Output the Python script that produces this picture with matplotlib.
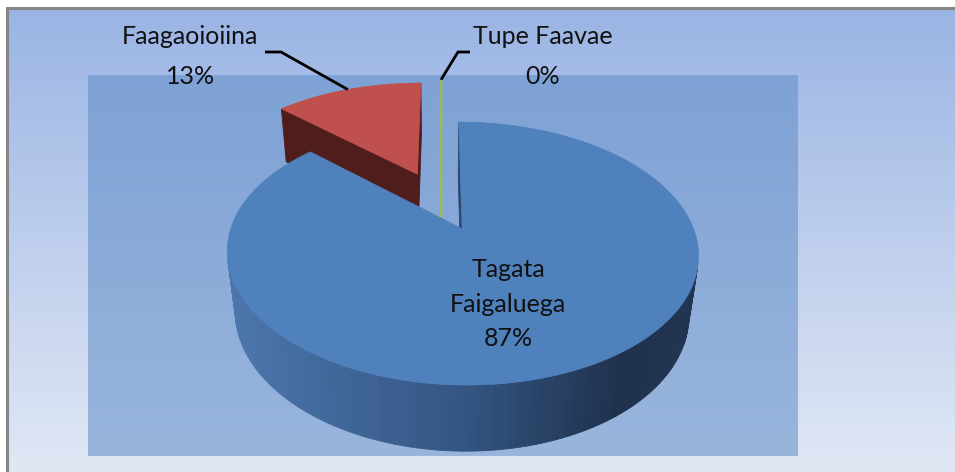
import numpy as np
import matplotlib
matplotlib.use("Agg")
import matplotlib.pyplot as plt
from matplotlib.patches import Polygon

# ---------------- data ----------------
categories = ["Tagata\nFaigaluega", "Faagaoioiina", "Tupe Faavae"]
values = [87, 13, 0]
pct_labels = ["87%", "13%", "0%"]
top_colors = ["#4F81BD", "#C0504D", "#9BBB59"]
face_colors = ["#2B4670", "#4F1E1C", "#9BBB59"]
explode = [0.23, 0.28, 0.30]

# ---------------- figure ----------------
W, H = 955, 472
fig = plt.figure(figsize=(9.55, 4.72), dpi=100)
ax = fig.add_axes([0, 0, 1, 1])
plt.rcParams['font.family'] = ['Lato', 'DejaVu Sans']


def vgrad(x0, x1, y0, y1, c0, c1, z):
    t = np.linspace(0, 1, 256)[:, None, None]
    a = np.array(c0, float)[None, None, :] / 255
    b = np.array(c1, float)[None, None, :] / 255
    img = a * (1 - t) + b * t
    ax.imshow(img, extent=(x0, x1, y1, y0), aspect='auto', zorder=z,
              interpolation='bilinear')


# outer chart area with gray frame
ax.add_patch(plt.Rectangle((0, 0), W, H, facecolor='white', zorder=0))
vgrad(7, W, 8, H, (154, 180, 228), (225, 232, 245), 1)
ax.plot([7, 7, W], [H, 8, 8], color='#858585', lw=2.2, zorder=2,
        solid_joinstyle='miter')
# plot area
vgrad(88, 797, 75, 456, (126, 162, 213), (153, 181, 220), 3)

# ---------------- 3D pie projection ----------------
X0, Y0 = 441, 203
F, DIST, ELEV = 1040.0, 4.675, np.radians(31.8)
DEPTH = 0.32
ce, se = np.cos(ELEV), np.sin(ELEV)
cam = np.array([0.0, DIST * ce, DIST * se])


def proj(u, v, w):
    u = np.asarray(u, float); v = np.asarray(v, float); w = np.asarray(w, float)
    yc = w * ce - v * se
    zc = DIST - (v * ce + w * se)
    return X0 + F * u / zc, Y0 - F * yc / zc


def side_color(x):
    # horizontal shading of the blue wall
    stops = np.array([233, 460, 620, 700], float)
    cols = np.array([(76, 118, 173), (52, 86, 131), (31, 49, 76), (34, 53, 82)], float)
    return tuple(np.array([np.interp(x, stops, cols[:, k]) for k in range(3)]) / 255)


total = float(sum(values))
start = 0.0
slices = []
for i, val in enumerate(values):
    span = 360.0 * val / total
    p1, p2 = start, start + span
    start = p2
    mid = np.radians((p1 + p2) / 2)
    cu, cv = explode[i] * np.sin(mid), -explode[i] * np.cos(mid)
    slices.append(dict(i=i, p1=np.radians(p1), p2=np.radians(p2), cu=cu, cv=cv,
                       mid=mid))

anchors = {}
for s in sorted(slices, key=lambda d: d['cv']):
    i, cu, cv = s['i'], s['cu'], s['cv']
    apex = np.array([cu, cv, 0.0])
    # radial faces
    for phi, sign in ((s['p1'], -1), (s['p2'], 1)):
        n = sign * np.array([np.cos(phi), np.sin(phi), 0.0])
        if np.dot(n, cam - apex) > 0 or values[i] == 0:
            ou, ov = cu + np.sin(phi), cv - np.cos(phi)
            xs, ys = proj([cu, ou, ou, cu], [cv, ov, ov, cv],
                          [0, 0, -DEPTH, -DEPTH])
            if values[i] == 0:
                ax.add_patch(Polygon(np.c_[xs, ys], closed=True,
                                     facecolor=top_colors[i],
                                     edgecolor=top_colors[i], lw=1.6, zorder=5))
            else:
                ax.add_patch(Polygon(np.c_[xs, ys], closed=True,
                                     facecolor=face_colors[i],
                                     edgecolor=face_colors[i], lw=0.6, zorder=5))
    # outer wall
    if values[i] > 0:
        phis = np.linspace(s['p1'], s['p2'], 200)
        for a, b in zip(phis[:-1], phis[1:]):
            m = (a + b) / 2
            n = np.array([np.sin(m), -np.cos(m), 0.0])
            P = np.array([cu + np.sin(m), cv - np.cos(m), 0.0])
            if np.dot(n, cam - P) <= 0:
                continue
            uu = [cu + np.sin(a), cu + np.sin(b), cu + np.sin(b), cu + np.sin(a)]
            vv = [cv - np.cos(a), cv - np.cos(b), cv - np.cos(b), cv - np.cos(a)]
            xs, ys = proj(uu, vv, [0, 0, -DEPTH, -DEPTH])
            col = side_color(xs.mean()) if i == 0 else face_colors[i]
            ax.add_patch(Polygon(np.c_[xs, ys], closed=True, facecolor=col,
                                 edgecolor=col, lw=0.6, zorder=5))
        # top surface
        uu = np.r_[cu, cu + np.sin(phis)]
        vv = np.r_[cv, cv - np.cos(phis)]
        xs, ys = proj(uu, vv, np.zeros_like(uu))
        ax.add_patch(Polygon(np.c_[xs, ys], closed=True, facecolor=top_colors[i],
                             edgecolor=top_colors[i], lw=0.5, zorder=6))
    m = s['mid']
    anchors[i] = proj(cu + np.sin(m), cv - np.cos(m), 0.0)

# ---------------- labels ----------------
fs = 18
txt = dict(fontsize=fs, color='#111111', ha='center', va='center', zorder=10)
ax.text(508, 304, categories[0] + "\n" + pct_labels[0], linespacing=1.62, **txt)
ax.text(190, 37, categories[1], **txt)
ax.text(191, 77, pct_labels[1], **txt)
ax.text(543, 37, categories[2], **txt)
ax.text(543, 77, pct_labels[2], **txt)

# leader lines
ax1x, ax1y = anchors[1]
ax.plot([265, 281, float(ax1x)], [52, 52, float(ax1y)], color='black', lw=2,
        zorder=9, solid_capstyle='butt')
ax2x, ax2y = anchors[2]
ax.plot([470, 458, float(ax2x)], [52, 52, float(ax2y)], color='black', lw=2,
        zorder=9, solid_capstyle='butt')

ax.set_xlim(0, W)
ax.set_ylim(H, 0)
ax.axis('off')
fig.savefig("out.png", dpi=100)
